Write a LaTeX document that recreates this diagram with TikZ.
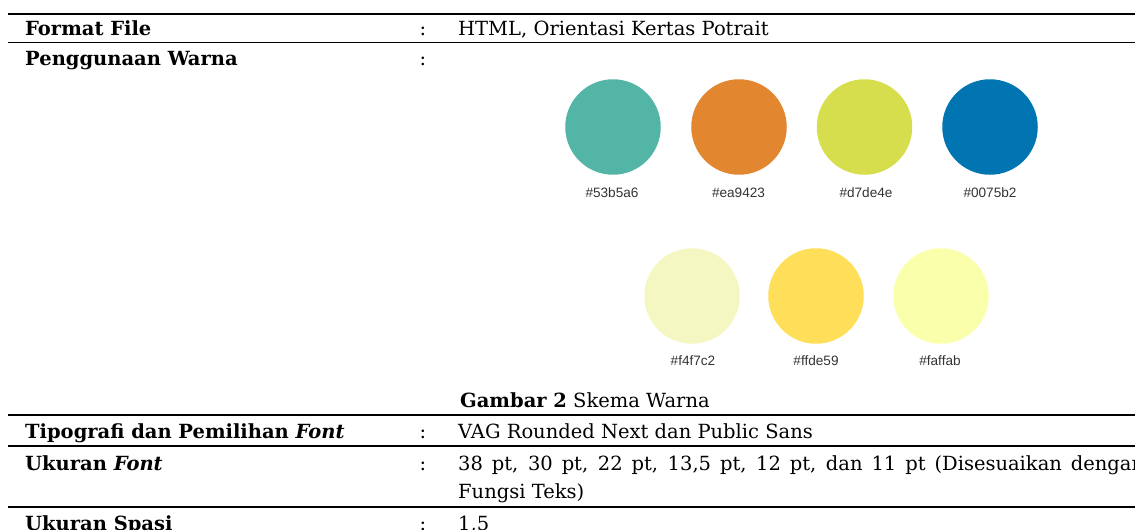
\documentclass[tikz,border=0pt]{standalone}
\usepackage{fontspec}
\setmainfont{DejaVu Serif}
\newfontfamily\hexfont{Liberation Sans}
\definecolor{cA}{HTML}{53B5A6}
\definecolor{cB}{HTML}{E38630}
\definecolor{cC}{HTML}{D7DE4E}
\definecolor{cD}{HTML}{0075B2}
\definecolor{cE}{HTML}{F4F7C2}
\definecolor{cF}{HTML}{FFDE59}
\definecolor{cG}{HTML}{FAFFAB}
\definecolor{hexgray}{HTML}{333333}
\tikzset{
  rule/.style={line width=1.7pt, black},
  cell/.style={inner sep=0pt, anchor=base west, font=\fontsize{19.5}{24}\selectfont},
  keycell/.style={cell, font=\fontsize{19.5}{24}\selectfont\bfseries},
  coloncell/.style={inner sep=0pt, anchor=base, font=\fontsize{19.5}{24}\selectfont},
  swatch/.style={circle, minimum size=95.5pt, inner sep=0pt, draw=none},
  hexlabel/.style={inner sep=0pt, anchor=base, text=hexgray, font=\hexfont\fontsize{13.6}{16}\selectfont}
}
\begin{document}
\begin{tikzpicture}[x=1pt,y=-1pt]
\useasboundingbox (0,0) rectangle (1135,530);
% rules
\draw[rule] (8,14) -- (1135,14);
\draw[rule] (8,42.5) -- (1135,42.5);
\draw[rule] (8,415) -- (1135,415);
\draw[rule] (8,446) -- (1135,446);
\draw[rule] (8,507) -- (1135,507);
% row 1
\node[keycell] (k1) at (25,35.5) {Format File};
\node[coloncell] (c1) at (423,35.5) {:};
\node[cell] (v1) at (458,35.5) {HTML, Orientasi Kertas Potrait};
% row 2
\node[keycell] (k2) at (25,65) {Penggunaan Warna};
\node[coloncell] (c2) at (423,65) {:};
% swatches row 1
\node[swatch, fill=cA] (s1) at (613,127) {};
\node[swatch, fill=cB] (s2) at (739,127) {};
\node[swatch, fill=cC] (s3) at (864.5,127) {};
\node[swatch, fill=cD] (s4) at (990,127) {};
\node[hexlabel] (h1) at (612,197) {\#53b5a6};
\node[hexlabel] (h2) at (738.5,197) {\#ea9423};
\node[hexlabel] (h3) at (866,197) {\#d7de4e};
\node[hexlabel] (h4) at (990,197) {\#0075b2};
% swatches row 2
\node[swatch, fill=cE] (s5) at (692,296) {};
\node[swatch, fill=cF] (s6) at (816,296) {};
\node[swatch, fill=cG] (s7) at (941,296) {};
\node[hexlabel] (h5) at (693,365) {\#f4f7c2};
\node[hexlabel] (h6) at (816,365) {\#ffde59};
\node[hexlabel] (h7) at (940,365) {\#faffab};
% caption
\node[cell] (cap) at (460,407) {\textbf{Gambar 2} Skema Warna};
% row 3
\node[keycell] (k3) at (25,438) {Tipografi dan Pemilihan \textit{Font}};
\node[coloncell] (c3) at (423,438) {:};
\node[cell] (v3) at (458,438) {VAG Rounded Next dan Public Sans};
% row 4
\node[keycell] (k4) at (25,470) {Ukuran \textit{Font}};
\node[coloncell] (c4) at (423,470) {:};
\node[cell] (v4) at (458,470) {\makebox[686pt][s]{38 pt, 30 pt, 22 pt, 13,5 pt, 12 pt, dan 11 pt (Disesuaikan dengan}};
\node[cell] (v4b) at (458,498) {Fungsi Teks)};
% row 5
\node[keycell] (k5) at (25,530) {Ukuran Spasi};
\node[coloncell] (c5) at (423,530) {:};
\node[cell] (v5) at (458,530) {1,5};
\end{tikzpicture}
\end{document}
